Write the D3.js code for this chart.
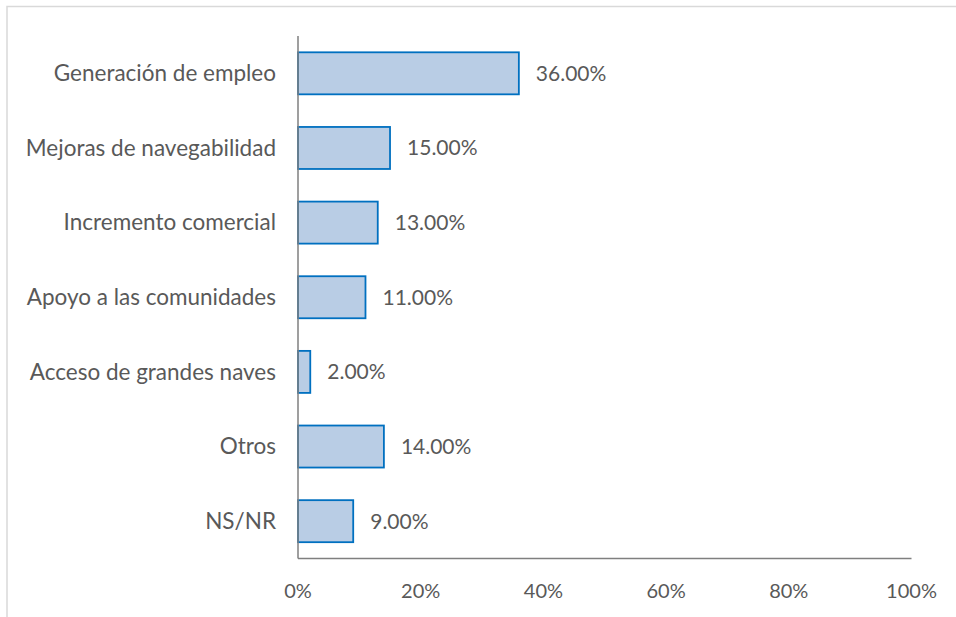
<!DOCTYPE html>
<html>
<head>
<meta charset="utf-8">
<script src="https://cdn.jsdelivr.net/npm/d3@7"></script>
<style>
  html, body { margin: 0; padding: 0; background: #fff; }
  svg { display: block; }
  text { font-family: Lato, "Open Sans", sans-serif; fill: #595959; }
</style>
</head>
<body>
<svg id="chart" width="956" height="617"></svg>
<script>
// Categories and their shares (percent)
const categories = [
  "Generación de empleo",
  "Mejoras de navegabilidad",
  "Incremento comercial",
  "Apoyo a las comunidades",
  "Acceso de grandes naves",
  "Otros",
  "NS/NR"
];
const values = [36, 15, 13, 11, 2, 14, 9];
const xTicks = [0, 20, 40, 60, 80, 100];

const W = 956, H = 617;
const margin = { left: 298, right: 44.5, top: 36, bottom: 58.5 };
const svg = d3.select("#chart");

// Outer frame
svg.append("rect")
  .attr("x", 7).attr("y", 6.5)
  .attr("width", W + 10).attr("height", H + 10)
  .attr("fill", "none").attr("stroke", "#d9d9d9").attr("stroke-width", 1.5);

const x = d3.scaleLinear().domain([0, 100]).range([margin.left, W - margin.right]);
const y = d3.scaleBand().domain(categories)
  .range([margin.top, H - margin.bottom]).paddingInner(0.437).paddingOuter(0.2185);

const data = categories.map((c, i) => ({ cat: c, val: values[i] }));

// Bars
svg.append("g").selectAll("rect").data(data).join("rect")
  .attr("x", x(0))
  .attr("y", d => y(d.cat))
  .attr("width", d => x(d.val) - x(0))
  .attr("height", y.bandwidth())
  .attr("fill", "#b9cde5")
  .attr("stroke", "#0070c0")
  .attr("stroke-width", 1.8);

// Value labels
svg.append("g").selectAll("text").data(data).join("text")
  .attr("x", d => x(d.val) + 17)
  .attr("y", d => y(d.cat) + y.bandwidth() / 2)
  .attr("dy", "0.35em")
  .attr("font-size", 21)
  .text(d => d.val.toFixed(2) + "%");

// Category labels
svg.append("g").selectAll("text").data(categories).join("text")
  .attr("x", x(0) - 22)
  .attr("y", d => y(d) + y.bandwidth() / 2)
  .attr("dy", "0.35em")
  .attr("text-anchor", "end")
  .attr("font-size", 22.5)
  .text(d => d);

// Axes lines
const axisColor = "#7f7f7f";
svg.append("line")
  .attr("x1", x(0)).attr("x2", x(0))
  .attr("y1", margin.top).attr("y2", H - margin.bottom)
  .attr("stroke", axisColor).attr("stroke-width", 1.5);
svg.append("line")
  .attr("x1", x(0)).attr("x2", x(100))
  .attr("y1", H - margin.bottom).attr("y2", H - margin.bottom)
  .attr("stroke", axisColor).attr("stroke-width", 1.5);

// X tick labels
svg.append("g").selectAll("text").data(xTicks).join("text")
  .attr("x", d => x(d))
  .attr("y", H - margin.bottom + 32)
  .attr("dy", "0.35em")
  .attr("text-anchor", "middle")
  .attr("font-size", 20)
  .text(d => d + "%");
</script>
</body>
</html>
